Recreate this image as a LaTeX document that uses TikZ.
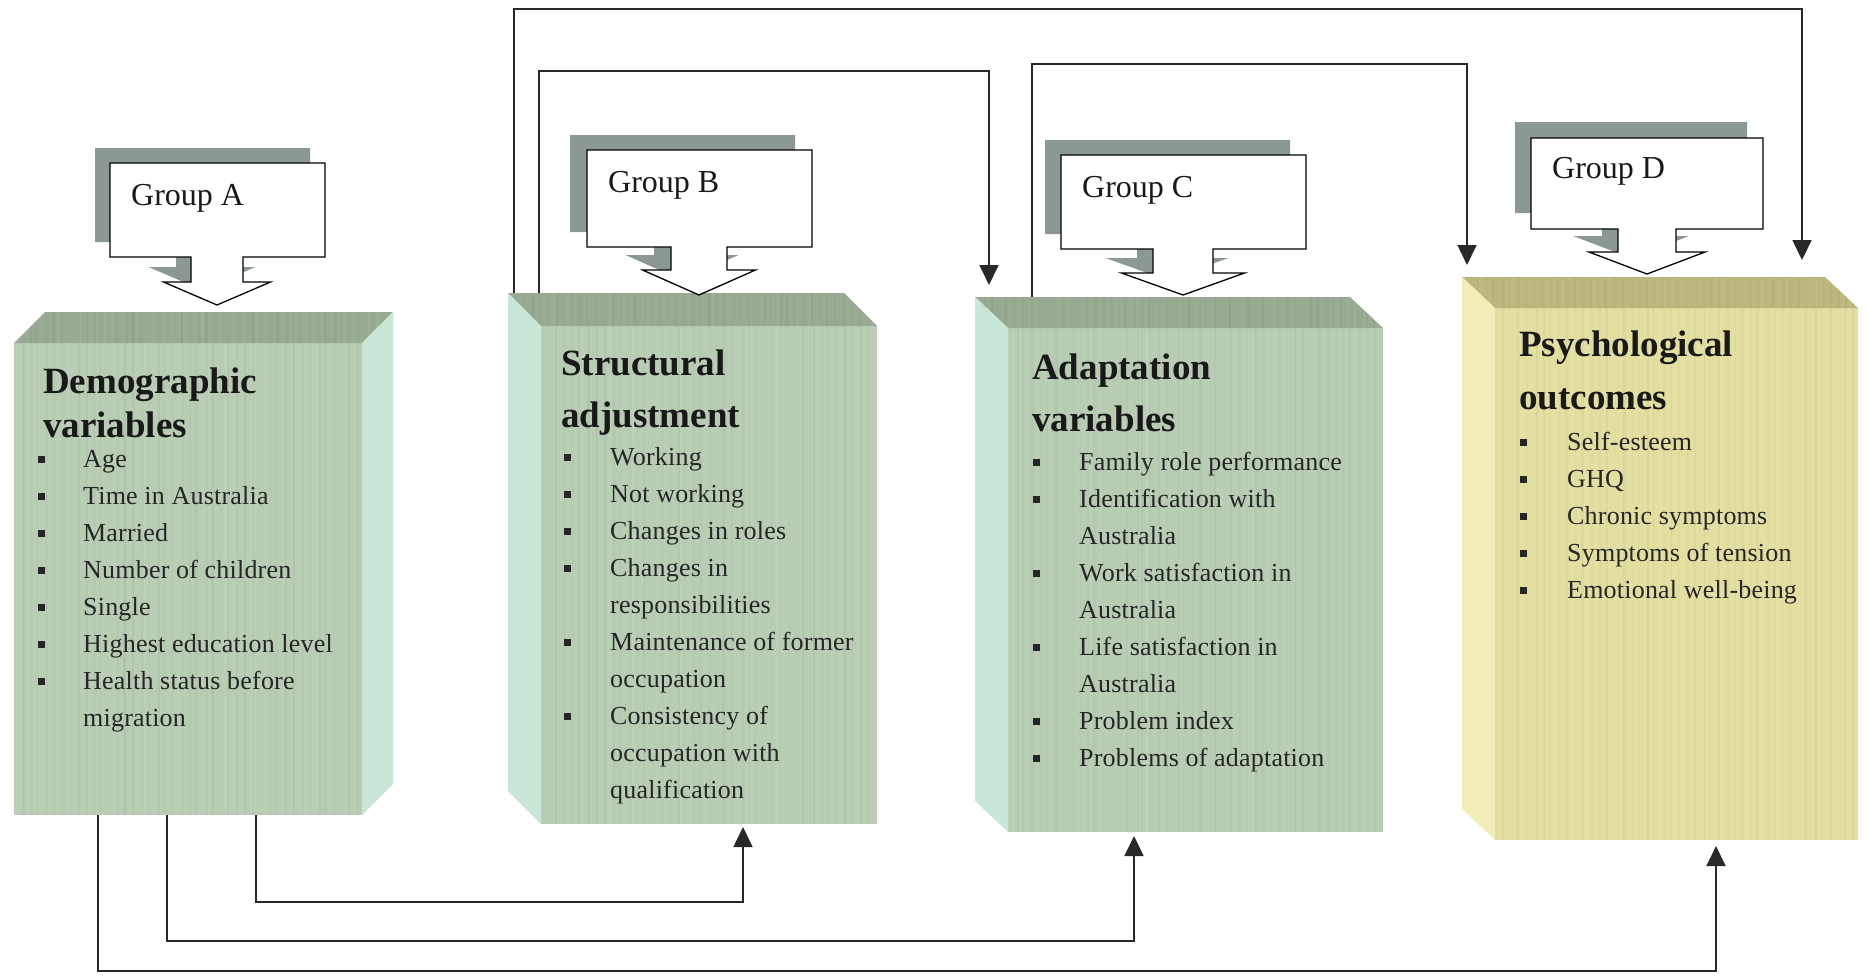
\documentclass[tikz,border=0pt]{standalone}
\usepackage{fontspec}
\setmainfont{Liberation Serif}
\usetikzlibrary{arrows.meta,calc}

\definecolor{frontG}{RGB}{184,205,180}
\definecolor{topG}{RGB}{152,170,146}
\definecolor{sideG}{RGB}{200,231,214}
\definecolor{frontY}{RGB}{226,223,160}
\definecolor{topY}{RGB}{188,183,124}
\definecolor{sideY}{RGB}{241,238,184}
\definecolor{shadowG}{RGB}{140,153,146}
\definecolor{lineC}{RGB}{40,40,40}

% faint vertical streaks inside a clipped region
\newcommand\stripes[5]{%
  \begin{scope}
    \clip #1;
    \pgfmathtruncatemacro\nst{(#3-#2)/4}
    \foreach \k in {0,...,\nst} {
      \pgfmathsetmacro\op{0.01+0.05*rnd}
      \pgfmathsetmacro\lw{0.8+2.2*rnd}
      \pgfmathsetmacro\sx{#2+4*\k+2*rand}
      \ifodd\k
        \draw[white, line width=\lw pt, opacity=\op] (\sx,#4) -- (\sx,#5);
      \else
        \draw[black!70, line width=\lw pt, opacity=\op] (\sx,#4) -- (\sx,#5);
      \fi
    }
  \end{scope}}

% bulleted column: prefix, bullet x, text x, first baseline, list of flag/text
\newcommand\itemcol[5]{%
  \foreach \bu/\tx [count=\i] in {#5} {
    \pgfmathsetmacro\yy{#4+37*(\i-1)}
    \node[itemtext] (#1-\i) at (#3,\yy) {\tx};
    \ifnum\bu=1 \node[bulletsq] (#1-b\i) at (#2,\yy-8) {};\fi
  }}

% callout outline: x1,y1,x2,y2, stem centre, stem half width, head y, head half width, tip y
\newcommand\calloutpath[9]{(#1,#2) -- (#3,#2) -- (#3,#4) -- (#5+#6,#4) -- (#5+#6,#7)
  -- (#5+#8,#7) -- (#5,#9) -- (#5-#8,#7) -- (#5-#6,#7) -- (#5-#6,#4) -- (#1,#4) -- cycle}

\tikzset{
  face/.style={draw=none, inner sep=0pt, outer sep=0pt},
  titletext/.style={anchor=base west, inner sep=0pt, font=\fontsize{37}{44}\selectfont\bfseries, text=black!90},
  itemtext/.style={anchor=base west, inner sep=0pt, font=\fontsize{26}{37}\selectfont\addfontfeatures{LetterSpace=0.8}, text=black!85},
  bulletsq/.style={fill=black!85, minimum size=7pt, inner sep=0pt, outer sep=0pt},
  grouptext/.style={anchor=base west, inner sep=0pt, font=\fontsize{32}{38}\selectfont, text=black!90},
  callout/.style={fill=white, draw=black, line width=1.3pt, line join=miter},
  calloutshadow/.style={fill=shadowG},
  conn/.style={draw=lineC, line width=1.6pt, -{Triangle[length=20pt,width=19pt]}},
}

\begin{document}
\begin{tikzpicture}[x=1pt, y=-1pt]
\pgfmathsetseed{42}
\useasboundingbox (0,0) rectangle (1868,975);
\fill[white] (0,0) rectangle (1868,975);

% ---------- box fronts ----------
\node[face, fill=frontG, minimum width=348pt, minimum height=472pt] (boxA) at (188,579) {};
\node[face, fill=frontG, minimum width=336pt, minimum height=498pt] (boxB) at (709,575) {};
\node[face, fill=frontG, minimum width=375pt, minimum height=504pt] (boxC) at (1195.5,580) {};
\node[face, fill=frontY, minimum width=363pt, minimum height=532pt] (boxD) at (1676.5,574) {};

% ---------- box A: top and right side ----------
\fill[topG] (boxA.north west) -- ++(31,-31) -- ($(boxA.north east)+(31,-31)$) -- (boxA.north east) -- cycle;
\fill[sideG] (boxA.north east) -- ++(31,-31) -- ($(boxA.south east)+(31,-31)$) -- (boxA.south east) -- cycle;
% ---------- box B: top and left side ----------
\fill[topG] (boxB.north west) -- ++(-33,-33) -- ($(boxB.north east)+(-33,-33)$) -- (boxB.north east) -- cycle;
\fill[sideG] (boxB.north west) -- ++(-33,-33) -- ($(boxB.south west)+(-33,-33)$) -- (boxB.south west) -- cycle;
% ---------- box C ----------
\fill[topG] (boxC.north west) -- ++(-33,-31) -- ($(boxC.north east)+(-33,-31)$) -- (boxC.north east) -- cycle;
\fill[sideG] (boxC.north west) -- ++(-33,-31) -- ($(boxC.south west)+(-33,-31)$) -- (boxC.south west) -- cycle;
% ---------- box D ----------
\fill[topY] (boxD.north west) -- ++(-33,-31) -- ($(boxD.north east)+(-33,-31)$) -- (boxD.north east) -- cycle;
\fill[sideY] (boxD.north west) -- ++(-33,-31) -- ($(boxD.south west)+(-33,-31)$) -- (boxD.south west) -- cycle;

% streak texture
\stripes{(boxA.north west) rectangle (boxA.south east)}{14}{362}{343}{815}
\stripes{(boxB.north west) rectangle (boxB.south east)}{541}{877}{326}{824}
\stripes{(boxC.north west) rectangle (boxC.south east)}{1008}{1383}{328}{832}
\stripes{(boxD.north west) rectangle (boxD.south east)}{1495}{1858}{308}{840}
\stripes{(14,343) -- (45,312) -- (393,312) -- (362,343) -- cycle}{14}{393}{312}{343}
\stripes{(541,326) -- (508,293) -- (844,293) -- (877,326) -- cycle}{508}{877}{293}{326}
\stripes{(1008,328) -- (975,297) -- (1350,297) -- (1383,328) -- cycle}{975}{1383}{297}{328}
\stripes{(1495,308) -- (1462,277) -- (1825,277) -- (1858,308) -- cycle}{1462}{1858}{277}{308}

% ---------- box texts ----------
\node[titletext] (A-t1) at (43,393) {Demographic};
\node[titletext] (A-t2) at (43,437) {variables};
\itemcol{A}{41}{83}{467}{1/Age, 1/Time in Australia, 1/Married, 1/Number of children, 1/Single,
  1/Highest education level, 1/Health status before, 0/migration}

\node[titletext] (B-t1) at (561,375) {Structural};
\node[titletext] (B-t2) at (561,427) {adjustment};
\itemcol{B}{567}{610}{465}{1/Working, 1/Not working, 1/Changes in roles, 1/Changes in,
  0/responsibilities, 1/Maintenance of former, 0/occupation, 1/Consistency of,
  0/occupation with, 0/qualification}

\node[titletext] (C-t1) at (1032,379) {Adaptation};
\node[titletext] (C-t2) at (1032,431) {variables};
\itemcol{C}{1036}{1079}{470}{1/Family role performance, 1/Identification with, 0/Australia,
  1/Work satisfaction in, 0/Australia, 1/Life satisfaction in, 0/Australia,
  1/Problem index, 1/Problems of adaptation}

\node[titletext] (D-t1) at (1519,356) {Psychological};
\node[titletext] (D-t2) at (1519,409) {outcomes};
\itemcol{D}{1523}{1567}{450}{1/Self-esteem, 1/GHQ, 1/Chronic symptoms, 1/Symptoms of tension,
  1/Emotional well-being}

% ---------- group callouts ----------
\fill[calloutshadow, shift={(-15,-15)}] \calloutpath{110}{163}{325}{257}{217}{26}{282}{53.5}{305};
\draw[callout] \calloutpath{110}{163}{325}{257}{217}{26}{282}{53.5}{305};
\node[grouptext] (gA) at (131,205) {Group A};

\fill[calloutshadow, shift={(-17,-15)}] \calloutpath{587}{150}{812}{247}{699}{28}{270}{56.5}{295};
\draw[callout] \calloutpath{587}{150}{812}{247}{699}{28}{270}{56.5}{295};
\node[grouptext] (gB) at (608,192) {Group B};

\fill[calloutshadow, shift={(-16,-15)}] \calloutpath{1061}{155}{1306}{249}{1183}{30}{273}{61.5}{295};
\draw[callout] \calloutpath{1061}{155}{1306}{249}{1183}{30}{273}{61.5}{295};
\node[grouptext] (gC) at (1082,197) {Group C};

\fill[calloutshadow, shift={(-16,-16)}] \calloutpath{1531}{138}{1763}{229}{1647}{29}{252}{58}{274};
\draw[callout] \calloutpath{1531}{138}{1763}{229}{1647}{29}{252}{58}{274};
\node[grouptext] (gD) at (1552,178) {Group D};

% ---------- connectors ----------
\coordinate (lv1) at (0,9);
\coordinate (lv2) at (0,71);
\coordinate (lv3) at (0,64);
\coordinate (lv4) at (0,902);
\coordinate (lv5) at (0,941);
\coordinate (lv6) at (0,971);

\coordinate (s1) at ($(boxB.north west)+(-27,-33)$);
\coordinate (e1) at ($(boxD.north east)+(-56,-48)$);
\coordinate (s2) at ($(boxB.north west)+(-2,-33)$);
\coordinate (e2) at ($(boxC.north west)+(-19,-43)$);
\coordinate (s3) at ($(boxC.north west)+(24,-31)$);
\coordinate (e3) at ($(boxD.north west)+(-28,-43)$);
\coordinate (s4) at ($(boxA.south west)+(242,0)$);
\coordinate (e4) at ($(boxB.south west)+(202,3)$);
\coordinate (s5) at ($(boxA.south west)+(153,0)$);
\coordinate (e5) at ($(boxC.south west)+(126,4)$);
\coordinate (s6) at ($(boxA.south west)+(84,0)$);
\coordinate (e6) at ($(boxD.south west)+(221,6)$);

\draw[conn] (s1) -- (s1 |- lv1) -| (e1);
\draw[conn] (s2) -- (s2 |- lv2) -| (e2);
\draw[conn] (s3) -- (s3 |- lv3) -| (e3);
\draw[conn] (s4) -- (s4 |- lv4) -| (e4);
\draw[conn] (s5) -- (s5 |- lv5) -| (e5);
\draw[conn] (s6) -- (s6 |- lv6) -| (e6);
\end{tikzpicture}
\end{document}
